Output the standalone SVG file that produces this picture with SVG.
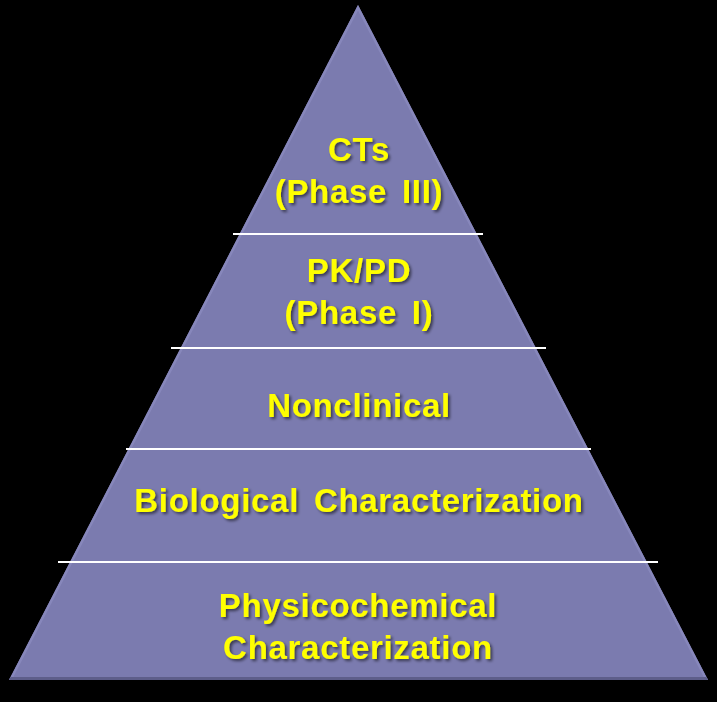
<svg xmlns="http://www.w3.org/2000/svg" width="717" height="702" viewBox="0 0 717 702">
<defs>
<style>
.lbl{font-family:"Liberation Sans",Arial,sans-serif;font-weight:bold;font-size:33px;fill:#ffff00;text-anchor:middle;letter-spacing:0.7px;filter:url(#sh)}
.ws{word-spacing:5px}
.sep{stroke:#ffffff;stroke-width:2}
</style>
<filter id="sh" x="-10%" y="-30%" width="120%" height="160%">
<feDropShadow dx="2" dy="2" stdDeviation="1.5" flood-color="#000000" flood-opacity="0.55"/>
</filter>
<clipPath id="tri"><polygon points="358,5 708,680 9,680"/></clipPath>
</defs>
<rect width="717" height="702" fill="#000000"/>
<g id="pyramid">
<polygon points="358,5 708,680 9,680" fill="#7b7baf"/>
<g clip-path="url(#tri)">
<polyline points="9,680 358,5 708,680" fill="none" stroke="#8787bb" stroke-width="5"/>
<line x1="0" y1="680" x2="717" y2="680" stroke="#5e5e8a" stroke-width="6"/>
</g>
</g>
<g id="connectors">
<line class="sep" x1="233" y1="234" x2="483" y2="234"/>
<line class="sep" x1="171" y1="348" x2="546" y2="348"/>
<line class="sep" x1="126" y1="449" x2="591" y2="449"/>
<line class="sep" x1="58" y1="562" x2="658" y2="562"/>
</g>
<g id="ct">
<text class="lbl" x="359" y="161">CTs</text>
<text class="lbl ws" x="359" y="203">(Phase III)</text>
</g>
<g id="pkpd">
<text class="lbl" x="359" y="282">PK/PD</text>
<text class="lbl ws" x="359" y="324">(Phase I)</text>
</g>
<g id="nonclinical">
<text class="lbl" x="359" y="417">Nonclinical</text>
</g>
<g id="biological">
<text class="lbl ws" x="359" y="512">Biological Characterization</text>
</g>
<g id="physicochemical">
<text class="lbl" x="358" y="617">Physicochemical</text>
<text class="lbl" x="358" y="659">Characterization</text>
</g>
</svg>
